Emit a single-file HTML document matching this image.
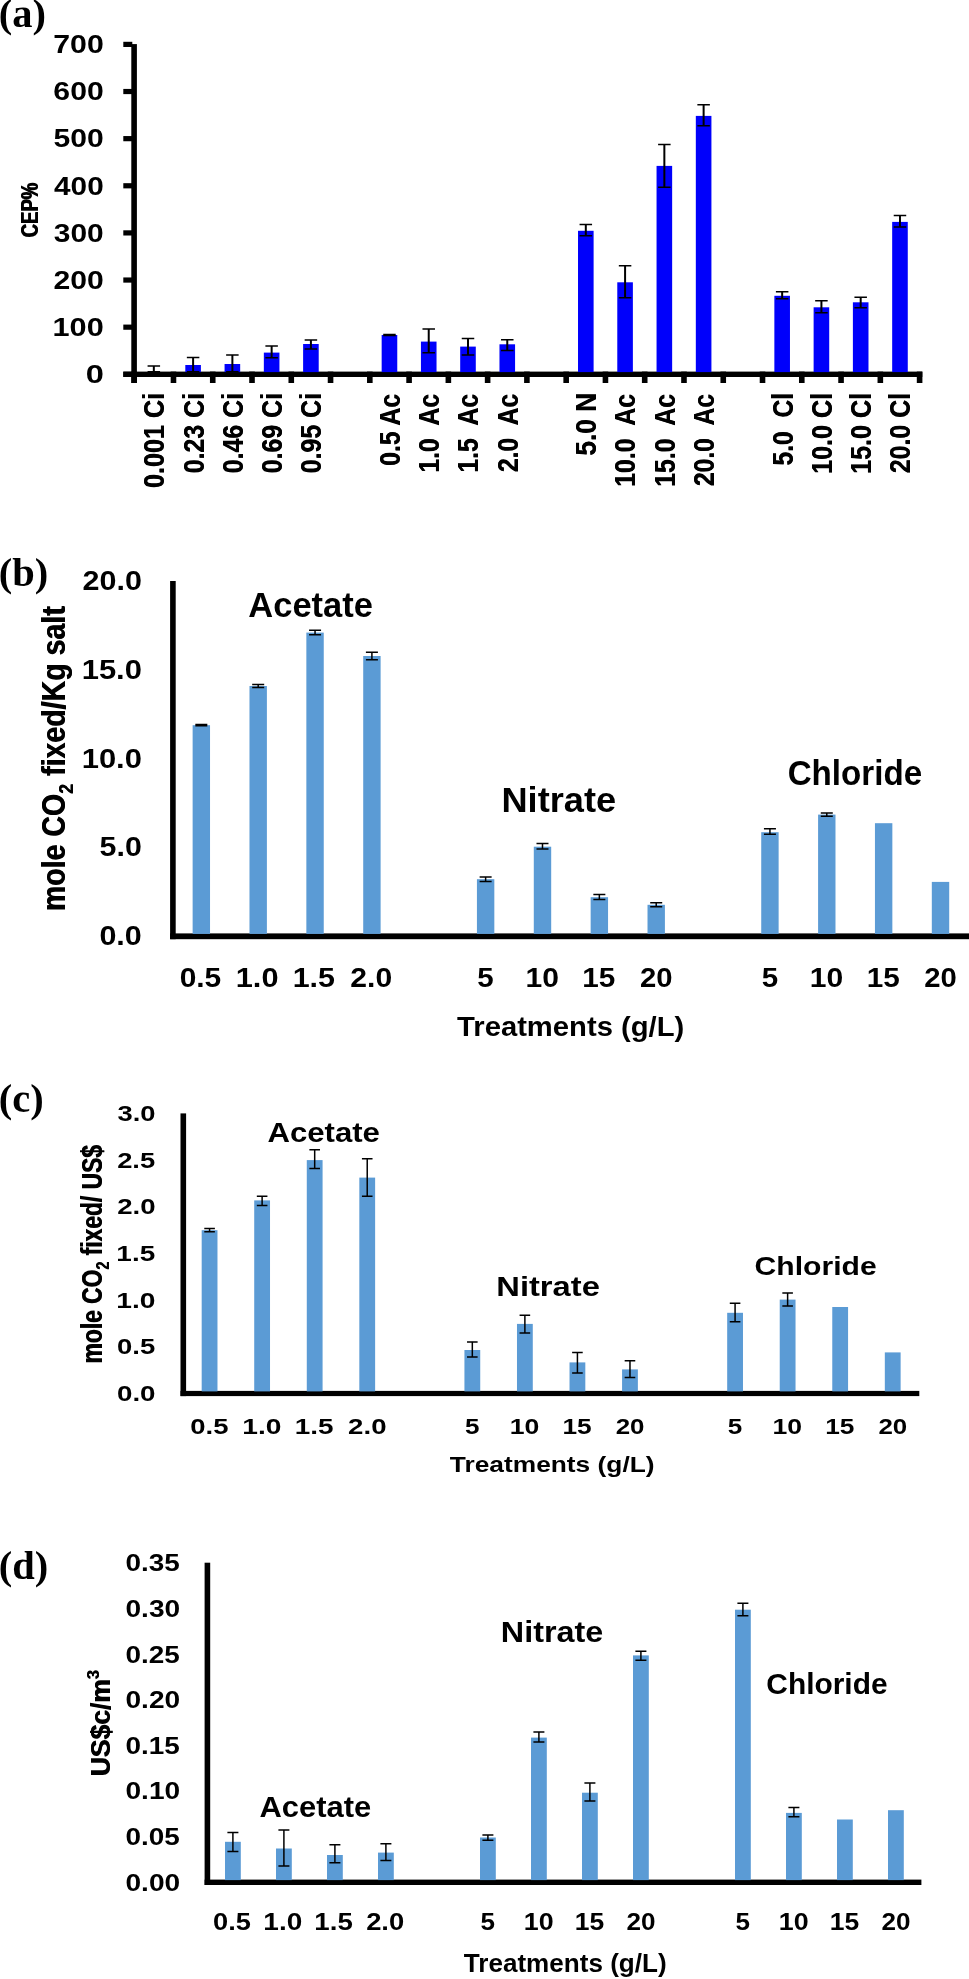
<!DOCTYPE html>
<html><head><meta charset="utf-8"><title>Figure</title>
<style>
html,body{margin:0;padding:0;background:#fff;}
body{width:969px;height:1979px;overflow:hidden;font-family:"Liberation Sans",sans-serif;}
svg{display:block;filter:blur(0.55px);}
</style></head><body>
<svg width="969" height="1979" viewBox="0 0 969 1979">
<rect width="969" height="1979" fill="#fff"/>
<rect x="131.30" y="44.09" width="5.60" height="338.91" fill="#000"/>
<rect x="123.30" y="371.60" width="799.00" height="5.40" fill="#000"/>
<rect x="123.30" y="371.70" width="9.00" height="5.20" fill="#000"/>
<rect x="123.30" y="324.57" width="9.00" height="5.20" fill="#000"/>
<rect x="123.30" y="277.44" width="9.00" height="5.20" fill="#000"/>
<rect x="123.30" y="230.31" width="9.00" height="5.20" fill="#000"/>
<rect x="123.30" y="183.18" width="9.00" height="5.20" fill="#000"/>
<rect x="123.30" y="136.05" width="9.00" height="5.20" fill="#000"/>
<rect x="123.30" y="88.92" width="9.00" height="5.20" fill="#000"/>
<rect x="123.30" y="41.79" width="9.00" height="5.20" fill="#000"/>
<rect x="131.40" y="371.60" width="5.60" height="11.40" fill="#000"/>
<rect x="170.67" y="371.60" width="5.60" height="11.40" fill="#000"/>
<rect x="209.94" y="371.60" width="5.60" height="11.40" fill="#000"/>
<rect x="249.21" y="371.60" width="5.60" height="11.40" fill="#000"/>
<rect x="288.48" y="371.60" width="5.60" height="11.40" fill="#000"/>
<rect x="327.75" y="371.60" width="5.60" height="11.40" fill="#000"/>
<rect x="367.02" y="371.60" width="5.60" height="11.40" fill="#000"/>
<rect x="406.29" y="371.60" width="5.60" height="11.40" fill="#000"/>
<rect x="445.56" y="371.60" width="5.60" height="11.40" fill="#000"/>
<rect x="484.83" y="371.60" width="5.60" height="11.40" fill="#000"/>
<rect x="524.10" y="371.60" width="5.60" height="11.40" fill="#000"/>
<rect x="563.37" y="371.60" width="5.60" height="11.40" fill="#000"/>
<rect x="602.64" y="371.60" width="5.60" height="11.40" fill="#000"/>
<rect x="641.91" y="371.60" width="5.60" height="11.40" fill="#000"/>
<rect x="681.18" y="371.60" width="5.60" height="11.40" fill="#000"/>
<rect x="720.45" y="371.60" width="5.60" height="11.40" fill="#000"/>
<rect x="759.72" y="371.60" width="5.60" height="11.40" fill="#000"/>
<rect x="798.99" y="371.60" width="5.60" height="11.40" fill="#000"/>
<rect x="838.26" y="371.60" width="5.60" height="11.40" fill="#000"/>
<rect x="877.53" y="371.60" width="5.60" height="11.40" fill="#000"/>
<rect x="916.80" y="371.60" width="5.60" height="11.40" fill="#000"/>
<text transform="translate(85.69 383.05) scale(1.2826 1)" font-family="Liberation Sans" font-weight="700" font-size="25.44" fill="#000" xml:space="preserve">0</text>
<text transform="translate(52.58 335.92) scale(1.2055 1)" font-family="Liberation Sans" font-weight="700" font-size="25.44" fill="#000" xml:space="preserve">100</text>
<text transform="translate(53.45 288.79) scale(1.1847 1)" font-family="Liberation Sans" font-weight="700" font-size="25.44" fill="#000" xml:space="preserve">200</text>
<text transform="translate(53.83 241.66) scale(1.1755 1)" font-family="Liberation Sans" font-weight="700" font-size="25.44" fill="#000" xml:space="preserve">300</text>
<text transform="translate(54.05 194.53) scale(1.1700 1)" font-family="Liberation Sans" font-weight="700" font-size="25.44" fill="#000" xml:space="preserve">400</text>
<text transform="translate(53.52 147.40) scale(1.1829 1)" font-family="Liberation Sans" font-weight="700" font-size="25.44" fill="#000" xml:space="preserve">500</text>
<text transform="translate(53.37 100.27) scale(1.1866 1)" font-family="Liberation Sans" font-weight="700" font-size="25.44" fill="#000" xml:space="preserve">600</text>
<text transform="translate(53.21 53.14) scale(1.1903 1)" font-family="Liberation Sans" font-weight="700" font-size="25.44" fill="#000" xml:space="preserve">700</text>
<g transform="translate(37.60 237.24) rotate(-90) scale(0.7477 1)">
<text x="-0.60" y="0.00" font-family="Liberation Sans" font-weight="700" font-size="24.73" xml:space="preserve">CEP%</text>
<text x="0.60" y="0.00" font-family="Liberation Sans" font-weight="700" font-size="24.73" xml:space="preserve">CEP%</text>
</g>
<text x="-1.22" y="27.30" font-family="Liberation Serif" font-weight="700" font-size="40.50">(a)</text>
<path d="M147.58 366.00H160.08M147.58 371.80H160.08" stroke="#000" stroke-width="1.50" fill="none"/>
<path d="M153.83 366.00V371.80" stroke="#000" stroke-width="2.00" fill="none"/>
<rect x="185.30" y="365.00" width="15.60" height="7.10" fill="#0000fb"/>
<path d="M186.85 357.60H199.35M186.85 371.80H199.35" stroke="#000" stroke-width="1.50" fill="none"/>
<path d="M193.10 357.60V371.80" stroke="#000" stroke-width="2.00" fill="none"/>
<rect x="224.57" y="364.00" width="15.60" height="8.10" fill="#0000fb"/>
<path d="M226.12 355.00H238.62M226.12 371.80H238.62" stroke="#000" stroke-width="1.50" fill="none"/>
<path d="M232.38 355.00V371.80" stroke="#000" stroke-width="2.00" fill="none"/>
<rect x="263.84" y="352.60" width="15.60" height="19.50" fill="#0000fb"/>
<path d="M265.39 346.00H277.89M265.39 357.80H277.89" stroke="#000" stroke-width="1.50" fill="none"/>
<path d="M271.64 346.00V357.80" stroke="#000" stroke-width="2.00" fill="none"/>
<rect x="303.11" y="344.00" width="15.60" height="28.10" fill="#0000fb"/>
<path d="M304.66 340.00H317.16M304.66 349.00H317.16" stroke="#000" stroke-width="1.50" fill="none"/>
<path d="M310.91 340.00V349.00" stroke="#000" stroke-width="2.00" fill="none"/>
<rect x="381.66" y="335.00" width="15.60" height="37.10" fill="#0000fb"/>
<path d="M383.21 334.60H395.71M383.21 335.60H395.71" stroke="#000" stroke-width="1.50" fill="none"/>
<path d="M389.46 334.60V335.60" stroke="#000" stroke-width="2.00" fill="none"/>
<rect x="420.93" y="341.60" width="15.60" height="30.50" fill="#0000fb"/>
<path d="M422.48 329.00H434.98M422.48 352.80H434.98" stroke="#000" stroke-width="1.50" fill="none"/>
<path d="M428.73 329.00V352.80" stroke="#000" stroke-width="2.00" fill="none"/>
<rect x="460.19" y="346.60" width="15.60" height="25.50" fill="#0000fb"/>
<path d="M461.75 338.60H474.25M461.75 355.00H474.25" stroke="#000" stroke-width="1.50" fill="none"/>
<path d="M468.00 338.60V355.00" stroke="#000" stroke-width="2.00" fill="none"/>
<rect x="499.47" y="344.30" width="15.60" height="27.80" fill="#0000fb"/>
<path d="M501.02 339.80H513.52M501.02 350.50H513.52" stroke="#000" stroke-width="1.50" fill="none"/>
<path d="M507.27 339.80V350.50" stroke="#000" stroke-width="2.00" fill="none"/>
<rect x="578.01" y="230.80" width="15.60" height="141.30" fill="#0000fb"/>
<path d="M579.56 224.40H592.06M579.56 235.80H592.06" stroke="#000" stroke-width="1.50" fill="none"/>
<path d="M585.81 224.40V235.80" stroke="#000" stroke-width="2.00" fill="none"/>
<rect x="617.28" y="282.30" width="15.60" height="89.80" fill="#0000fb"/>
<path d="M618.83 265.80H631.33M618.83 297.80H631.33" stroke="#000" stroke-width="1.50" fill="none"/>
<path d="M625.08 265.80V297.80" stroke="#000" stroke-width="2.00" fill="none"/>
<rect x="656.55" y="165.90" width="15.60" height="206.20" fill="#0000fb"/>
<path d="M658.10 144.50H670.60M658.10 187.30H670.60" stroke="#000" stroke-width="1.50" fill="none"/>
<path d="M664.35 144.50V187.30" stroke="#000" stroke-width="2.00" fill="none"/>
<rect x="695.82" y="115.90" width="15.60" height="256.20" fill="#0000fb"/>
<path d="M697.37 104.70H709.87M697.37 125.70H709.87" stroke="#000" stroke-width="1.50" fill="none"/>
<path d="M703.62 104.70V125.70" stroke="#000" stroke-width="2.00" fill="none"/>
<rect x="774.36" y="295.80" width="15.60" height="76.30" fill="#0000fb"/>
<path d="M775.90 291.80H788.40M775.90 298.80H788.40" stroke="#000" stroke-width="1.50" fill="none"/>
<path d="M782.15 291.80V298.80" stroke="#000" stroke-width="2.00" fill="none"/>
<rect x="813.62" y="307.30" width="15.60" height="64.80" fill="#0000fb"/>
<path d="M815.17 300.80H827.67M815.17 312.80H827.67" stroke="#000" stroke-width="1.50" fill="none"/>
<path d="M821.42 300.80V312.80" stroke="#000" stroke-width="2.00" fill="none"/>
<rect x="852.89" y="302.30" width="15.60" height="69.80" fill="#0000fb"/>
<path d="M854.44 297.30H866.94M854.44 307.80H866.94" stroke="#000" stroke-width="1.50" fill="none"/>
<path d="M860.69 297.30V307.80" stroke="#000" stroke-width="2.00" fill="none"/>
<rect x="892.17" y="221.90" width="15.60" height="150.20" fill="#0000fb"/>
<path d="M893.72 215.40H906.22M893.72 226.90H906.22" stroke="#000" stroke-width="1.50" fill="none"/>
<path d="M899.97 215.40V226.90" stroke="#000" stroke-width="2.00" fill="none"/>
<g transform="translate(164.23 488.01) rotate(-90) scale(0.8781 1)">
<text x="-0.23" y="0.00" font-family="Liberation Sans" font-weight="700" font-size="28.67" xml:space="preserve">0.001 Ci</text>
<text x="0.23" y="0.00" font-family="Liberation Sans" font-weight="700" font-size="28.67" xml:space="preserve">0.001 Ci</text>
</g>
<g transform="translate(203.50 473.30) rotate(-90) scale(0.8699 1)">
<text x="-0.23" y="0.00" font-family="Liberation Sans" font-weight="700" font-size="28.67" xml:space="preserve">0.23 Ci</text>
<text x="0.23" y="0.00" font-family="Liberation Sans" font-weight="700" font-size="28.67" xml:space="preserve">0.23 Ci</text>
</g>
<g transform="translate(242.78 473.30) rotate(-90) scale(0.8699 1)">
<text x="-0.23" y="0.00" font-family="Liberation Sans" font-weight="700" font-size="28.67" xml:space="preserve">0.46 Ci</text>
<text x="0.23" y="0.00" font-family="Liberation Sans" font-weight="700" font-size="28.67" xml:space="preserve">0.46 Ci</text>
</g>
<g transform="translate(282.04 473.30) rotate(-90) scale(0.8699 1)">
<text x="-0.23" y="0.00" font-family="Liberation Sans" font-weight="700" font-size="28.67" xml:space="preserve">0.69 Ci</text>
<text x="0.23" y="0.00" font-family="Liberation Sans" font-weight="700" font-size="28.67" xml:space="preserve">0.69 Ci</text>
</g>
<g transform="translate(321.31 473.30) rotate(-90) scale(0.8699 1)">
<text x="-0.23" y="0.00" font-family="Liberation Sans" font-weight="700" font-size="28.67" xml:space="preserve">0.95 Ci</text>
<text x="0.23" y="0.00" font-family="Liberation Sans" font-weight="700" font-size="28.67" xml:space="preserve">0.95 Ci</text>
</g>
<g transform="translate(399.86 465.69) rotate(-90) scale(0.8608 1)">
<text x="-0.23" y="0.00" font-family="Liberation Sans" font-weight="700" font-size="28.67" xml:space="preserve">0.5 Ac</text>
<text x="0.23" y="0.00" font-family="Liberation Sans" font-weight="700" font-size="28.67" xml:space="preserve">0.5 Ac</text>
</g>
<g transform="translate(439.12 472.64) rotate(-90) scale(0.8620 1)">
<text x="-0.23" y="0.00" font-family="Liberation Sans" font-weight="700" font-size="28.67" xml:space="preserve">1.0  Ac</text>
<text x="0.23" y="0.00" font-family="Liberation Sans" font-weight="700" font-size="28.67" xml:space="preserve">1.0  Ac</text>
</g>
<g transform="translate(478.39 472.64) rotate(-90) scale(0.8620 1)">
<text x="-0.23" y="0.00" font-family="Liberation Sans" font-weight="700" font-size="28.67" xml:space="preserve">1.5  Ac</text>
<text x="0.23" y="0.00" font-family="Liberation Sans" font-weight="700" font-size="28.67" xml:space="preserve">1.5  Ac</text>
</g>
<g transform="translate(517.67 471.96) rotate(-90) scale(0.8544 1)">
<text x="-0.23" y="0.00" font-family="Liberation Sans" font-weight="700" font-size="28.67" xml:space="preserve">2.0  Ac</text>
<text x="0.23" y="0.00" font-family="Liberation Sans" font-weight="700" font-size="28.67" xml:space="preserve">2.0  Ac</text>
</g>
<g transform="translate(596.21 455.65) rotate(-90) scale(0.9168 1)">
<text x="-0.22" y="0.00" font-family="Liberation Sans" font-weight="700" font-size="28.67" xml:space="preserve">5.0 N</text>
<text x="0.22" y="0.00" font-family="Liberation Sans" font-weight="700" font-size="28.67" xml:space="preserve">5.0 N</text>
</g>
<g transform="translate(635.48 486.75) rotate(-90) scale(0.8651 1)">
<text x="-0.23" y="0.00" font-family="Liberation Sans" font-weight="700" font-size="28.67" xml:space="preserve">10.0  Ac</text>
<text x="0.23" y="0.00" font-family="Liberation Sans" font-weight="700" font-size="28.67" xml:space="preserve">10.0  Ac</text>
</g>
<g transform="translate(674.75 486.75) rotate(-90) scale(0.8651 1)">
<text x="-0.23" y="0.00" font-family="Liberation Sans" font-weight="700" font-size="28.67" xml:space="preserve">15.0  Ac</text>
<text x="0.23" y="0.00" font-family="Liberation Sans" font-weight="700" font-size="28.67" xml:space="preserve">15.0  Ac</text>
</g>
<g transform="translate(714.01 486.06) rotate(-90) scale(0.8586 1)">
<text x="-0.23" y="0.00" font-family="Liberation Sans" font-weight="700" font-size="28.67" xml:space="preserve">20.0  Ac</text>
<text x="0.23" y="0.00" font-family="Liberation Sans" font-weight="700" font-size="28.67" xml:space="preserve">20.0  Ac</text>
</g>
<g transform="translate(792.55 465.50) rotate(-90) scale(0.8601 1)">
<text x="-0.23" y="0.00" font-family="Liberation Sans" font-weight="700" font-size="28.67" xml:space="preserve">5.0  Cl</text>
<text x="0.23" y="0.00" font-family="Liberation Sans" font-weight="700" font-size="28.67" xml:space="preserve">5.0  Cl</text>
</g>
<g transform="translate(831.82 473.87) rotate(-90) scale(0.8762 1)">
<text x="-0.23" y="0.00" font-family="Liberation Sans" font-weight="700" font-size="28.67" xml:space="preserve">10.0 Cl</text>
<text x="0.23" y="0.00" font-family="Liberation Sans" font-weight="700" font-size="28.67" xml:space="preserve">10.0 Cl</text>
</g>
<g transform="translate(871.09 473.87) rotate(-90) scale(0.8762 1)">
<text x="-0.23" y="0.00" font-family="Liberation Sans" font-weight="700" font-size="28.67" xml:space="preserve">15.0 Cl</text>
<text x="0.23" y="0.00" font-family="Liberation Sans" font-weight="700" font-size="28.67" xml:space="preserve">15.0 Cl</text>
</g>
<g transform="translate(910.37 473.17) rotate(-90) scale(0.8685 1)">
<text x="-0.23" y="0.00" font-family="Liberation Sans" font-weight="700" font-size="28.67" xml:space="preserve">20.0 Cl</text>
<text x="0.23" y="0.00" font-family="Liberation Sans" font-weight="700" font-size="28.67" xml:space="preserve">20.0 Cl</text>
</g>
<rect x="170.10" y="581.00" width="5.60" height="358.20" fill="#000"/>
<rect x="170.10" y="933.40" width="799.40" height="5.80" fill="#000"/>
<rect x="192.63" y="725.20" width="17.40" height="208.70" fill="#5b9bd5"/>
<path d="M195.33 724.60H207.33M195.33 725.80H207.33" stroke="#000" stroke-width="1.50" fill="none"/>
<path d="M201.33 724.60V725.80" stroke="#000" stroke-width="1.50" fill="none"/>
<rect x="249.49" y="686.00" width="17.40" height="247.90" fill="#5b9bd5"/>
<path d="M252.19 684.40H264.19M252.19 687.60H264.19" stroke="#000" stroke-width="1.50" fill="none"/>
<path d="M258.19 684.40V687.60" stroke="#000" stroke-width="1.50" fill="none"/>
<rect x="306.35" y="632.60" width="17.40" height="301.30" fill="#5b9bd5"/>
<path d="M309.05 630.30H321.05M309.05 634.80H321.05" stroke="#000" stroke-width="1.50" fill="none"/>
<path d="M315.05 630.30V634.80" stroke="#000" stroke-width="1.50" fill="none"/>
<rect x="363.21" y="656.00" width="17.40" height="277.90" fill="#5b9bd5"/>
<path d="M365.91 652.30H377.91M365.91 659.80H377.91" stroke="#000" stroke-width="1.50" fill="none"/>
<path d="M371.91 652.30V659.80" stroke="#000" stroke-width="1.50" fill="none"/>
<rect x="476.93" y="879.20" width="17.40" height="54.70" fill="#5b9bd5"/>
<path d="M479.63 877.00H491.63M479.63 881.40H491.63" stroke="#000" stroke-width="1.50" fill="none"/>
<path d="M485.63 877.00V881.40" stroke="#000" stroke-width="1.50" fill="none"/>
<rect x="533.79" y="846.70" width="17.40" height="87.20" fill="#5b9bd5"/>
<path d="M536.49 843.60H548.49M536.49 849.00H548.49" stroke="#000" stroke-width="1.50" fill="none"/>
<path d="M542.49 843.60V849.00" stroke="#000" stroke-width="1.50" fill="none"/>
<rect x="590.65" y="897.20" width="17.40" height="36.70" fill="#5b9bd5"/>
<path d="M593.35 894.60H605.35M593.35 899.60H605.35" stroke="#000" stroke-width="1.50" fill="none"/>
<path d="M599.35 894.60V899.60" stroke="#000" stroke-width="1.50" fill="none"/>
<rect x="647.51" y="904.80" width="17.40" height="29.10" fill="#5b9bd5"/>
<path d="M650.21 902.80H662.21M650.21 906.80H662.21" stroke="#000" stroke-width="1.50" fill="none"/>
<path d="M656.21 902.80V906.80" stroke="#000" stroke-width="1.50" fill="none"/>
<rect x="761.23" y="832.20" width="17.40" height="101.70" fill="#5b9bd5"/>
<path d="M763.93 828.80H775.93M763.93 834.20H775.93" stroke="#000" stroke-width="1.50" fill="none"/>
<path d="M769.93 828.80V834.20" stroke="#000" stroke-width="1.50" fill="none"/>
<rect x="818.09" y="814.60" width="17.40" height="119.30" fill="#5b9bd5"/>
<path d="M820.79 812.90H832.79M820.79 816.30H832.79" stroke="#000" stroke-width="1.50" fill="none"/>
<path d="M826.79 812.90V816.30" stroke="#000" stroke-width="1.50" fill="none"/>
<rect x="874.95" y="823.20" width="17.40" height="110.70" fill="#5b9bd5"/>
<rect x="931.81" y="881.90" width="17.40" height="52.00" fill="#5b9bd5"/>
<text transform="translate(99.38 945.03) scale(1.1370 1)" font-family="Liberation Sans" font-weight="700" font-size="26.86" fill="#000" xml:space="preserve">0.0</text>
<text transform="translate(99.61 856.38) scale(1.1305 1)" font-family="Liberation Sans" font-weight="700" font-size="26.86" fill="#000" xml:space="preserve">5.0</text>
<text transform="translate(81.67 767.73) scale(1.1520 1)" font-family="Liberation Sans" font-weight="700" font-size="26.86" fill="#000" xml:space="preserve">10.0</text>
<text transform="translate(81.67 679.08) scale(1.1520 1)" font-family="Liberation Sans" font-weight="700" font-size="26.86" fill="#000" xml:space="preserve">15.0</text>
<text transform="translate(82.53 590.43) scale(1.1350 1)" font-family="Liberation Sans" font-weight="700" font-size="26.86" fill="#000" xml:space="preserve">20.0</text>
<text transform="translate(179.63 987.23) scale(1.1150 1)" font-family="Liberation Sans" font-weight="700" font-size="26.86" fill="#000" xml:space="preserve">0.5</text>
<text transform="translate(235.77 987.23) scale(1.1453 1)" font-family="Liberation Sans" font-weight="700" font-size="26.86" fill="#000" xml:space="preserve">1.0</text>
<text transform="translate(292.65 987.23) scale(1.1343 1)" font-family="Liberation Sans" font-weight="700" font-size="26.86" fill="#000" xml:space="preserve">1.5</text>
<text transform="translate(350.36 987.23) scale(1.1214 1)" font-family="Liberation Sans" font-weight="700" font-size="26.86" fill="#000" xml:space="preserve">2.0</text>
<text transform="translate(477.37 987.23) scale(1.0983 1)" font-family="Liberation Sans" font-weight="700" font-size="26.86" fill="#000" xml:space="preserve">5</text>
<text transform="translate(525.46 987.23) scale(1.1199 1)" font-family="Liberation Sans" font-weight="700" font-size="26.86" fill="#000" xml:space="preserve">10</text>
<text transform="translate(582.34 987.23) scale(1.1062 1)" font-family="Liberation Sans" font-weight="700" font-size="26.86" fill="#000" xml:space="preserve">15</text>
<text transform="translate(640.04 987.23) scale(1.0901 1)" font-family="Liberation Sans" font-weight="700" font-size="26.86" fill="#000" xml:space="preserve">20</text>
<text transform="translate(761.67 987.23) scale(1.0983 1)" font-family="Liberation Sans" font-weight="700" font-size="26.86" fill="#000" xml:space="preserve">5</text>
<text transform="translate(809.76 987.23) scale(1.1199 1)" font-family="Liberation Sans" font-weight="700" font-size="26.86" fill="#000" xml:space="preserve">10</text>
<text transform="translate(866.64 987.23) scale(1.1062 1)" font-family="Liberation Sans" font-weight="700" font-size="26.86" fill="#000" xml:space="preserve">15</text>
<text transform="translate(924.34 987.23) scale(1.0901 1)" font-family="Liberation Sans" font-weight="700" font-size="26.86" fill="#000" xml:space="preserve">20</text>
<text transform="translate(248.34 616.50) scale(0.9962 1)" font-family="Liberation Sans" font-weight="700" font-size="34.62" fill="#000" xml:space="preserve">Acetate</text>
<text transform="translate(501.46 812.40) scale(1.0541 1)" font-family="Liberation Sans" font-weight="700" font-size="34.33" fill="#000" xml:space="preserve">Nitrate</text>
<text transform="translate(787.67 785.20) scale(0.9656 1)" font-family="Liberation Sans" font-weight="700" font-size="34.33" fill="#000" xml:space="preserve">Chloride</text>
<text transform="translate(457.03 1036.00) scale(1.0684 1)" font-family="Liberation Sans" font-weight="700" font-size="27.35" fill="#000" xml:space="preserve">Treatments (g/L)</text>
<text x="-1.22" y="585.60" font-family="Liberation Serif" font-weight="700" font-size="40.50">(b)</text>
<g transform="translate(65.40 911.16) rotate(-90) scale(0.8612 1)">
<text x="-0.41" y="0.00" font-family="Liberation Sans" font-weight="700" font-size="33.16" xml:space="preserve">mole CO</text>
<text x="0.41" y="0.00" font-family="Liberation Sans" font-weight="700" font-size="33.16" xml:space="preserve">mole CO</text>
<text x="135.96" y="7.96" font-family="Liberation Sans" font-weight="700" font-size="20.56" xml:space="preserve">2</text>
<text x="136.77" y="7.96" font-family="Liberation Sans" font-weight="700" font-size="20.56" xml:space="preserve">2</text>
<text x="147.40" y="0.00" font-family="Liberation Sans" font-weight="700" font-size="33.16" xml:space="preserve"> fixed/Kg salt</text>
<text x="148.21" y="0.00" font-family="Liberation Sans" font-weight="700" font-size="33.16" xml:space="preserve"> fixed/Kg salt</text>
</g>
<rect x="180.50" y="1113.40" width="5.60" height="282.70" fill="#000"/>
<rect x="180.50" y="1390.90" width="738.80" height="5.20" fill="#000"/>
<rect x="201.68" y="1230.20" width="15.80" height="161.20" fill="#5b9bd5"/>
<path d="M204.28 1228.60H214.88M204.28 1231.80H214.88" stroke="#000" stroke-width="1.50" fill="none"/>
<path d="M209.58 1228.60V1231.80" stroke="#000" stroke-width="1.50" fill="none"/>
<rect x="254.22" y="1200.40" width="15.80" height="191.00" fill="#5b9bd5"/>
<path d="M256.82 1196.20H267.43M256.82 1205.40H267.43" stroke="#000" stroke-width="1.50" fill="none"/>
<path d="M262.12 1196.20V1205.40" stroke="#000" stroke-width="1.50" fill="none"/>
<rect x="306.78" y="1160.10" width="15.80" height="231.30" fill="#5b9bd5"/>
<path d="M309.38 1149.70H319.98M309.38 1168.50H319.98" stroke="#000" stroke-width="1.50" fill="none"/>
<path d="M314.68 1149.70V1168.50" stroke="#000" stroke-width="1.50" fill="none"/>
<rect x="359.33" y="1177.60" width="15.80" height="213.80" fill="#5b9bd5"/>
<path d="M361.93 1158.80H372.53M361.93 1196.30H372.53" stroke="#000" stroke-width="1.50" fill="none"/>
<path d="M367.23 1158.80V1196.30" stroke="#000" stroke-width="1.50" fill="none"/>
<rect x="464.43" y="1350.00" width="15.80" height="41.40" fill="#5b9bd5"/>
<path d="M467.02 1341.90H477.62M467.02 1357.00H477.62" stroke="#000" stroke-width="1.50" fill="none"/>
<path d="M472.32 1341.90V1357.00" stroke="#000" stroke-width="1.50" fill="none"/>
<rect x="516.98" y="1323.90" width="15.80" height="67.50" fill="#5b9bd5"/>
<path d="M519.58 1315.20H530.17M519.58 1333.00H530.17" stroke="#000" stroke-width="1.50" fill="none"/>
<path d="M524.88 1315.20V1333.00" stroke="#000" stroke-width="1.50" fill="none"/>
<rect x="569.52" y="1362.40" width="15.80" height="29.00" fill="#5b9bd5"/>
<path d="M572.12 1352.50H582.72M572.12 1373.00H582.72" stroke="#000" stroke-width="1.50" fill="none"/>
<path d="M577.42 1352.50V1373.00" stroke="#000" stroke-width="1.50" fill="none"/>
<rect x="622.07" y="1369.40" width="15.80" height="22.00" fill="#5b9bd5"/>
<path d="M624.67 1360.80H635.27M624.67 1377.40H635.27" stroke="#000" stroke-width="1.50" fill="none"/>
<path d="M629.97 1360.80V1377.40" stroke="#000" stroke-width="1.50" fill="none"/>
<rect x="727.18" y="1312.80" width="15.80" height="78.60" fill="#5b9bd5"/>
<path d="M729.78 1303.30H740.38M729.78 1321.80H740.38" stroke="#000" stroke-width="1.50" fill="none"/>
<path d="M735.08 1303.30V1321.80" stroke="#000" stroke-width="1.50" fill="none"/>
<rect x="779.73" y="1299.60" width="15.80" height="91.80" fill="#5b9bd5"/>
<path d="M782.33 1293.00H792.92M782.33 1306.10H792.92" stroke="#000" stroke-width="1.50" fill="none"/>
<path d="M787.62 1293.00V1306.10" stroke="#000" stroke-width="1.50" fill="none"/>
<rect x="832.27" y="1307.00" width="15.80" height="84.40" fill="#5b9bd5"/>
<rect x="884.82" y="1352.40" width="15.80" height="39.00" fill="#5b9bd5"/>
<text transform="translate(116.99 1400.93) scale(1.2814 1)" font-family="Liberation Sans" font-weight="700" font-size="21.63" fill="#000" xml:space="preserve">0.0</text>
<text transform="translate(117.00 1354.30) scale(1.2692 1)" font-family="Liberation Sans" font-weight="700" font-size="21.63" fill="#000" xml:space="preserve">0.5</text>
<text transform="translate(116.34 1307.66) scale(1.3038 1)" font-family="Liberation Sans" font-weight="700" font-size="21.63" fill="#000" xml:space="preserve">1.0</text>
<text transform="translate(116.35 1261.03) scale(1.2912 1)" font-family="Liberation Sans" font-weight="700" font-size="21.63" fill="#000" xml:space="preserve">1.5</text>
<text transform="translate(117.13 1214.39) scale(1.2765 1)" font-family="Liberation Sans" font-weight="700" font-size="21.63" fill="#000" xml:space="preserve">2.0</text>
<text transform="translate(117.14 1167.76) scale(1.2645 1)" font-family="Liberation Sans" font-weight="700" font-size="21.63" fill="#000" xml:space="preserve">2.5</text>
<text transform="translate(117.48 1121.12) scale(1.2645 1)" font-family="Liberation Sans" font-weight="700" font-size="21.63" fill="#000" xml:space="preserve">3.0</text>
<text transform="translate(190.33 1434.03) scale(1.2692 1)" font-family="Liberation Sans" font-weight="700" font-size="21.63" fill="#000" xml:space="preserve">0.5</text>
<text transform="translate(242.21 1434.03) scale(1.3038 1)" font-family="Liberation Sans" font-weight="700" font-size="21.63" fill="#000" xml:space="preserve">1.0</text>
<text transform="translate(294.78 1434.03) scale(1.2912 1)" font-family="Liberation Sans" font-weight="700" font-size="21.63" fill="#000" xml:space="preserve">1.5</text>
<text transform="translate(348.11 1434.03) scale(1.2765 1)" font-family="Liberation Sans" font-weight="700" font-size="21.63" fill="#000" xml:space="preserve">2.0</text>
<text transform="translate(465.03 1434.03) scale(1.2051 1)" font-family="Liberation Sans" font-weight="700" font-size="21.63" fill="#000" xml:space="preserve">5</text>
<text transform="translate(509.81 1434.03) scale(1.2301 1)" font-family="Liberation Sans" font-weight="700" font-size="21.63" fill="#000" xml:space="preserve">10</text>
<text transform="translate(562.38 1434.03) scale(1.2150 1)" font-family="Liberation Sans" font-weight="700" font-size="21.63" fill="#000" xml:space="preserve">15</text>
<text transform="translate(615.67 1434.03) scale(1.1974 1)" font-family="Liberation Sans" font-weight="700" font-size="21.63" fill="#000" xml:space="preserve">20</text>
<text transform="translate(727.78 1434.03) scale(1.2051 1)" font-family="Liberation Sans" font-weight="700" font-size="21.63" fill="#000" xml:space="preserve">5</text>
<text transform="translate(772.56 1434.03) scale(1.2301 1)" font-family="Liberation Sans" font-weight="700" font-size="21.63" fill="#000" xml:space="preserve">10</text>
<text transform="translate(825.13 1434.03) scale(1.2150 1)" font-family="Liberation Sans" font-weight="700" font-size="21.63" fill="#000" xml:space="preserve">15</text>
<text transform="translate(878.42 1434.03) scale(1.1974 1)" font-family="Liberation Sans" font-weight="700" font-size="21.63" fill="#000" xml:space="preserve">20</text>
<text transform="translate(267.52 1141.50) scale(1.1377 1)" font-family="Liberation Sans" font-weight="700" font-size="27.35" fill="#000" xml:space="preserve">Acetate</text>
<text transform="translate(496.29 1296.30) scale(1.2151 1)" font-family="Liberation Sans" font-weight="700" font-size="26.91" fill="#000" xml:space="preserve">Nitrate</text>
<text transform="translate(754.60 1274.50) scale(1.1373 1)" font-family="Liberation Sans" font-weight="700" font-size="26.47" fill="#000" xml:space="preserve">Chloride</text>
<text transform="translate(449.87 1472.40) scale(1.1829 1)" font-family="Liberation Sans" font-weight="700" font-size="22.25" fill="#000" xml:space="preserve">Treatments (g/L)</text>
<text x="-1.22" y="1112.00" font-family="Liberation Serif" font-weight="700" font-size="40.50">(c)</text>
<g transform="translate(102.20 1363.38) rotate(-90) scale(0.7927 1)">
<text x="-0.44" y="0.00" font-family="Liberation Sans" font-weight="700" font-size="28.80" xml:space="preserve">mole CO</text>
<text x="0.44" y="0.00" font-family="Liberation Sans" font-weight="700" font-size="28.80" xml:space="preserve">mole CO</text>
<text x="117.98" y="6.91" font-family="Liberation Sans" font-weight="700" font-size="17.86" xml:space="preserve">2</text>
<text x="118.87" y="6.91" font-family="Liberation Sans" font-weight="700" font-size="17.86" xml:space="preserve">2</text>
<text x="127.91" y="0.00" font-family="Liberation Sans" font-weight="700" font-size="28.80" xml:space="preserve"> fixed/ US$</text>
<text x="128.80" y="0.00" font-family="Liberation Sans" font-weight="700" font-size="28.80" xml:space="preserve"> fixed/ US$</text>
</g>
<rect x="204.60" y="1562.70" width="5.60" height="322.30" fill="#000"/>
<rect x="204.60" y="1879.60" width="716.80" height="5.40" fill="#000"/>
<rect x="225.00" y="1841.80" width="15.80" height="38.30" fill="#5b9bd5"/>
<path d="M227.40 1832.40H238.40M227.40 1851.40H238.40" stroke="#000" stroke-width="1.50" fill="none"/>
<path d="M232.90 1832.40V1851.40" stroke="#000" stroke-width="1.50" fill="none"/>
<rect x="276.00" y="1848.50" width="15.80" height="31.60" fill="#5b9bd5"/>
<path d="M278.40 1830.10H289.40M278.40 1866.00H289.40" stroke="#000" stroke-width="1.50" fill="none"/>
<path d="M283.90 1830.10V1866.00" stroke="#000" stroke-width="1.50" fill="none"/>
<rect x="327.00" y="1855.00" width="15.80" height="25.10" fill="#5b9bd5"/>
<path d="M329.40 1844.80H340.40M329.40 1862.80H340.40" stroke="#000" stroke-width="1.50" fill="none"/>
<path d="M334.90 1844.80V1862.80" stroke="#000" stroke-width="1.50" fill="none"/>
<rect x="378.00" y="1852.60" width="15.80" height="27.50" fill="#5b9bd5"/>
<path d="M380.40 1843.70H391.40M380.40 1860.60H391.40" stroke="#000" stroke-width="1.50" fill="none"/>
<path d="M385.90 1843.70V1860.60" stroke="#000" stroke-width="1.50" fill="none"/>
<rect x="480.00" y="1837.50" width="15.80" height="42.60" fill="#5b9bd5"/>
<path d="M482.40 1834.90H493.40M482.40 1840.20H493.40" stroke="#000" stroke-width="1.50" fill="none"/>
<path d="M487.90 1834.90V1840.20" stroke="#000" stroke-width="1.50" fill="none"/>
<rect x="531.00" y="1737.60" width="15.80" height="142.50" fill="#5b9bd5"/>
<path d="M533.40 1732.10H544.40M533.40 1742.00H544.40" stroke="#000" stroke-width="1.50" fill="none"/>
<path d="M538.90 1732.10V1742.00" stroke="#000" stroke-width="1.50" fill="none"/>
<rect x="582.00" y="1792.70" width="15.80" height="87.40" fill="#5b9bd5"/>
<path d="M584.40 1782.90H595.40M584.40 1800.90H595.40" stroke="#000" stroke-width="1.50" fill="none"/>
<path d="M589.90 1782.90V1800.90" stroke="#000" stroke-width="1.50" fill="none"/>
<rect x="633.00" y="1655.40" width="15.80" height="224.70" fill="#5b9bd5"/>
<path d="M635.40 1651.30H646.40M635.40 1660.20H646.40" stroke="#000" stroke-width="1.50" fill="none"/>
<path d="M640.90 1651.30V1660.20" stroke="#000" stroke-width="1.50" fill="none"/>
<rect x="735.00" y="1609.70" width="15.80" height="270.40" fill="#5b9bd5"/>
<path d="M737.40 1603.20H748.40M737.40 1615.80H748.40" stroke="#000" stroke-width="1.50" fill="none"/>
<path d="M742.90 1603.20V1615.80" stroke="#000" stroke-width="1.50" fill="none"/>
<rect x="786.00" y="1812.90" width="15.80" height="67.20" fill="#5b9bd5"/>
<path d="M788.40 1807.50H799.40M788.40 1816.70H799.40" stroke="#000" stroke-width="1.50" fill="none"/>
<path d="M793.90 1807.50V1816.70" stroke="#000" stroke-width="1.50" fill="none"/>
<rect x="837.00" y="1819.50" width="15.80" height="60.60" fill="#5b9bd5"/>
<rect x="888.00" y="1810.20" width="15.80" height="69.90" fill="#5b9bd5"/>
<text transform="translate(125.48 1890.66) scale(1.1557 1)" font-family="Liberation Sans" font-weight="700" font-size="24.31" fill="#000" xml:space="preserve">0.00</text>
<text transform="translate(125.48 1845.04) scale(1.1480 1)" font-family="Liberation Sans" font-weight="700" font-size="24.31" fill="#000" xml:space="preserve">0.05</text>
<text transform="translate(125.48 1799.43) scale(1.1557 1)" font-family="Liberation Sans" font-weight="700" font-size="24.31" fill="#000" xml:space="preserve">0.10</text>
<text transform="translate(125.48 1753.81) scale(1.1480 1)" font-family="Liberation Sans" font-weight="700" font-size="24.31" fill="#000" xml:space="preserve">0.15</text>
<text transform="translate(125.48 1708.20) scale(1.1557 1)" font-family="Liberation Sans" font-weight="700" font-size="24.31" fill="#000" xml:space="preserve">0.20</text>
<text transform="translate(125.48 1662.58) scale(1.1480 1)" font-family="Liberation Sans" font-weight="700" font-size="24.31" fill="#000" xml:space="preserve">0.25</text>
<text transform="translate(125.48 1616.97) scale(1.1557 1)" font-family="Liberation Sans" font-weight="700" font-size="24.31" fill="#000" xml:space="preserve">0.30</text>
<text transform="translate(125.48 1571.35) scale(1.1480 1)" font-family="Liberation Sans" font-weight="700" font-size="24.31" fill="#000" xml:space="preserve">0.35</text>
<text transform="translate(213.01 1929.86) scale(1.1197 1)" font-family="Liberation Sans" font-weight="700" font-size="24.31" fill="#000" xml:space="preserve">0.5</text>
<text transform="translate(263.35 1929.86) scale(1.1501 1)" font-family="Liberation Sans" font-weight="700" font-size="24.31" fill="#000" xml:space="preserve">1.0</text>
<text transform="translate(314.37 1929.86) scale(1.1391 1)" font-family="Liberation Sans" font-weight="700" font-size="24.31" fill="#000" xml:space="preserve">1.5</text>
<text transform="translate(366.14 1929.86) scale(1.1261 1)" font-family="Liberation Sans" font-weight="700" font-size="24.31" fill="#000" xml:space="preserve">2.0</text>
<text transform="translate(480.60 1929.86) scale(1.0720 1)" font-family="Liberation Sans" font-weight="700" font-size="24.31" fill="#000" xml:space="preserve">5</text>
<text transform="translate(523.73 1929.86) scale(1.1023 1)" font-family="Liberation Sans" font-weight="700" font-size="24.31" fill="#000" xml:space="preserve">10</text>
<text transform="translate(574.75 1929.86) scale(1.0888 1)" font-family="Liberation Sans" font-weight="700" font-size="24.31" fill="#000" xml:space="preserve">15</text>
<text transform="translate(626.49 1929.86) scale(1.0731 1)" font-family="Liberation Sans" font-weight="700" font-size="24.31" fill="#000" xml:space="preserve">20</text>
<text transform="translate(735.60 1929.86) scale(1.0720 1)" font-family="Liberation Sans" font-weight="700" font-size="24.31" fill="#000" xml:space="preserve">5</text>
<text transform="translate(778.73 1929.86) scale(1.1023 1)" font-family="Liberation Sans" font-weight="700" font-size="24.31" fill="#000" xml:space="preserve">10</text>
<text transform="translate(829.75 1929.86) scale(1.0888 1)" font-family="Liberation Sans" font-weight="700" font-size="24.31" fill="#000" xml:space="preserve">15</text>
<text transform="translate(881.49 1929.86) scale(1.0731 1)" font-family="Liberation Sans" font-weight="700" font-size="24.31" fill="#000" xml:space="preserve">20</text>
<text transform="translate(259.43 1816.90) scale(1.0286 1)" font-family="Liberation Sans" font-weight="700" font-size="30.11" fill="#000" xml:space="preserve">Acetate</text>
<text transform="translate(500.81 1642.30) scale(1.0804 1)" font-family="Liberation Sans" font-weight="700" font-size="29.96" fill="#000" xml:space="preserve">Nitrate</text>
<text transform="translate(766.30 1693.80) scale(0.9981 1)" font-family="Liberation Sans" font-weight="700" font-size="29.96" fill="#000" xml:space="preserve">Chloride</text>
<text transform="translate(463.77 1971.80) scale(1.0309 1)" font-family="Liberation Sans" font-weight="700" font-size="25.31" fill="#000" xml:space="preserve">Treatments (g/L)</text>
<text x="-1.22" y="1578.50" font-family="Liberation Serif" font-weight="700" font-size="40.50">(d)</text>
<g transform="translate(110.40 1776.19) rotate(-90) scale(0.9582 1)">
<text x="-0.37" y="0.00" font-family="Liberation Sans" font-weight="700" font-size="27.64" xml:space="preserve">US$c/m</text>
<text x="0.37" y="0.00" font-family="Liberation Sans" font-weight="700" font-size="27.64" xml:space="preserve">US$c/m</text>
<text x="101.02" y="-11.61" font-family="Liberation Sans" font-weight="700" font-size="17.13" xml:space="preserve">3</text>
<text x="101.75" y="-11.61" font-family="Liberation Sans" font-weight="700" font-size="17.13" xml:space="preserve">3</text>
</g>
</svg>
</body></html>
